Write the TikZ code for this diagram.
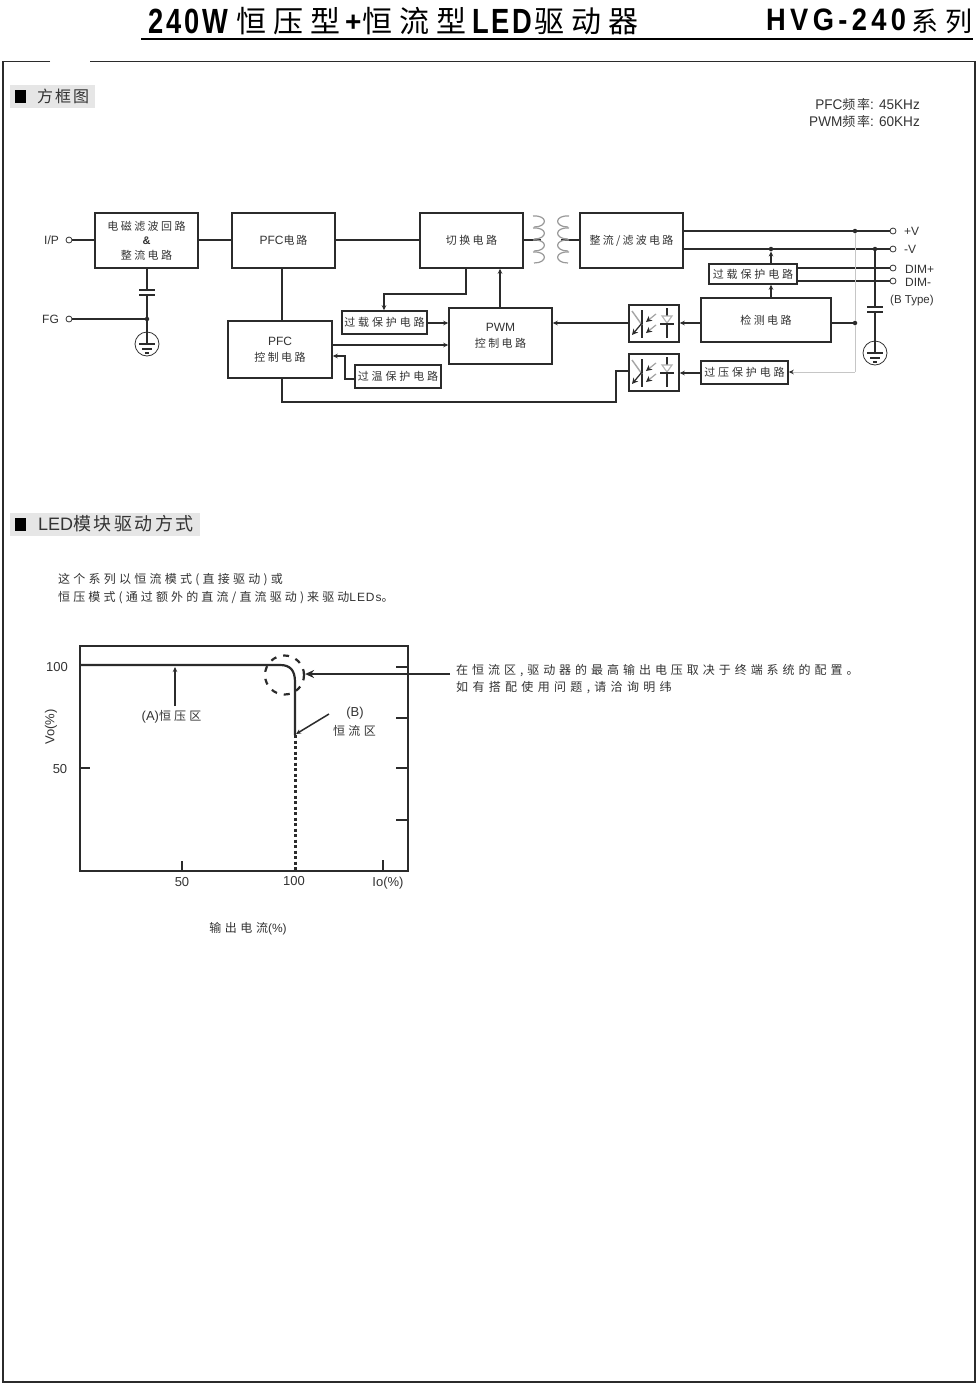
\documentclass[tikz,border=0pt]{standalone}
\usepackage{fontspec}
\usetikzlibrary{arrows.meta}
\setmainfont{Liberation Sans}
\newfontfamily\cjk{Noto Sans CJK SC}
\newcommand{\fs}[1]{\fontsize{#1}{#1}\selectfont}
\newcommand{\Zh}[2]{{\cjk\addfontfeature{LetterSpace=#1}#2}}
\definecolor{ink}{HTML}{2B2B2B}
\definecolor{soft}{HTML}{333333}
\definecolor{band}{HTML}{E6E6E6}
\tikzset{
  wire/.style={draw=ink,line width=1.5pt},
  arr/.style={wire,-{Stealth[length=5pt,width=4.5pt]}},
  box/.style={draw=ink,line width=1.5pt,rectangle,inner sep=0pt,align=center,text=soft,font=\fs{11}},
  txt/.style={inner sep=0pt,text=soft,font=\fs{12}},
  lab/.style={txt,anchor=base west},
  term/.style={circle,draw=soft,line width=.8pt,fill=white,minimum size=6pt,inner sep=0pt},
  jdot/.style={circle,fill=ink,minimum size=4.5pt,inner sep=0pt},
  titlefont/.style={inner sep=0pt,anchor=base west,text=black},
}
\newcommand{\gnd}[3]{% name, x, y of centre
  \node[circle,draw=soft,line width=.8pt,minimum size=24pt,inner sep=0pt] (#1) at (#2,#3) {};
  \draw[wire,line width=1.2pt] ([xshift=-8pt,yshift=0pt]#1.center) -- ([xshift=8pt]#1.center);
  \draw[wire,line width=1.2pt] ([xshift=-5pt,yshift=-5pt]#1.center) -- ([xshift=5pt,yshift=-5pt]#1.center);
  \draw[wire,line width=1.2pt] ([xshift=-2pt,yshift=-9pt]#1.center) -- ([xshift=2pt,yshift=-9pt]#1.center);
}
\newcommand{\optosym}[2]{% x,y of box left top
  \begin{scope}[shift={(#1,#2)}]
    \draw[wire] (13,5) -- (13,33);
    \draw[draw=gray!70,line width=1.4pt] (3,6) -- (13,20);
    \draw[wire,line width=1.2pt,-{Stealth[length=6pt,width=6pt]}] (13,18) -- (3,30);
    \draw[draw=gray!70,line width=1.2pt,-{Stealth[length=6pt,width=6pt,color=ink]}] (27,9) -- (17,17);
    \draw[draw=gray!70,line width=1.2pt,-{Stealth[length=6pt,width=6pt,color=ink]}] (27,20) -- (17,28);
    \draw[wire] (38,3) -- (38,11);
    \draw[draw=gray!60,line width=1.1pt] (33,11) -- (43,11) -- (38,18) -- cycle;
    \draw[wire] (31,19) -- (45,19);
    \draw[wire] (38,19) -- (38,33);
  \end{scope}
}
\begin{document}
\begin{tikzpicture}[x=1pt,y=-1pt]
\useasboundingbox[fill=white] (0,0) rectangle (977,1385);
% title
\node[titlefont,font=\fs{35}\bfseries] (t1) at (148,33) {\addfontfeature{FakeStretch=.78,LetterSpace=8}240W};
\node[titlefont,font=\fs{30}] (t2) at (236,32) {\Zh{24}{恒压型}};
\node[titlefont,font=\fs{28}\bfseries] (t3) at (345,31) {+};
\node[titlefont,font=\fs{30}] (t4) at (362,32) {\Zh{24}{恒流型}};
\node[titlefont,font=\fs{35}\bfseries] (t5) at (472,33) {\addfontfeature{FakeStretch=.78,LetterSpace=8}LED};
\node[titlefont,font=\fs{30}] (t6) at (534,32) {\Zh{24}{驱动器}};
\node[titlefont,font=\fs{31}\bfseries] (t7) at (766,30) {\addfontfeature{FakeStretch=.88,LetterSpace=14}HVG-240};
\node[titlefont,font=\fs{27}] (t8) at (911,31) {\Zh{28}{系列}};
\draw[draw=black,line width=2.2pt] (141,39) coordinate (ruleL) -- (973,39) coordinate (ruleR);
% frame
\draw[draw=ink,line width=1.5pt] (50,61.5) coordinate (fa) -- (3,61.5) -- (3,1382) -- (975,1382) -- (975,61.5) -- (90,61.5) coordinate (fb);
% section heads
\node[fill=band,inner sep=0pt,minimum width=85pt,minimum height=23pt] (h1) at (52.5,96.5) {};
\node[fill=black,inner sep=0pt,minimum width=11pt,minimum height=13pt] (h1s) at (20,96) {};
\node[lab,font=\fs{16}] (h1t) at (37,102) {\Zh{12}{方框图}};
\node[fill=band,inner sep=0pt,minimum width=190pt,minimum height=23pt] (h2) at (105,524.5) {};
\node[fill=black,inner sep=0pt,minimum width=11pt,minimum height=13pt] (h2s) at (20,524) {};
\node[lab,font=\fs{18}] (h2t) at (38,530) {LED\Zh{14}{模块驱动方式}};
% frequency
\node[txt,anchor=base east,font=\fs{14}] (f1) at (920,109) {\addfontfeature{FakeStretch=.97}PFC\Zh{14}{\fs{13}频率}: 45KHz};
\node[txt,anchor=base east,font=\fs{14}] (f2) at (920,126) {\addfontfeature{FakeStretch=.97}PWM\Zh{14}{\fs{13}频率}: 60KHz};
% boxes
\node[box,minimum width=103pt,minimum height=55pt] (emi) at (146.5,240.5) {\Zh{22}{电磁滤波回路}\\[3.5pt]\textbf{\&}\\[3.5pt]\Zh{22}{整流电路}};
\node[box,minimum width=103pt,minimum height=55pt] (pfc) at (283.5,240.5) {\fs{12}PFC\Zh{16}{\fs{11}电路}};
\node[box,minimum width=104pt,minimum height=57pt] (pfcc) at (280,349.5) {\fs{12}PFC\\[5pt]\Zh{22}{控制电路}};
\node[box,minimum width=103pt,minimum height=55pt] (sw) at (471.5,240.5) {\Zh{22}{切换电路}};
\node[box,minimum width=103pt,minimum height=55pt] (rect) at (631.5,240.5) {\Zh{20}{整流/滤波电路}};
\node[box,minimum width=85pt,minimum height=23pt] (ol1) at (384.5,322.5) {\Zh{26}{过载保护电路}};
\node[box,minimum width=103pt,minimum height=56pt] (pwm) at (500.5,336) {\fs{12}PWM\\[5pt]\Zh{22}{控制电路}};
\node[box,minimum width=86pt,minimum height=23pt] (ot) at (398,376.5) {\Zh{26}{过温保护电路}};
\node[box,minimum width=50pt,minimum height=37pt] (op1) at (654,323.5) {};
\node[box,minimum width=50pt,minimum height=37pt] (op2) at (654,372.5) {};
\node[box,minimum width=130pt,minimum height=44pt] (det) at (766,320) {\Zh{22}{检测电路}};
\node[box,minimum width=87pt,minimum height=23pt] (ov) at (744.5,372.5) {\Zh{26}{过压保护电路}};
\node[box,minimum width=88pt,minimum height=20pt] (ol2) at (753,274) {\Zh{26}{过载保护电路}};
\optosym{629}{305}
\optosym{629}{354}
% terminals and labels
\node[term] (ip) at (69,240) {};
\node[term] (fg) at (69,319) {};
\node[txt,font=\fs{12}] (ipl) at (51.5,240) {I/P};
\node[txt,font=\fs{12}] (fgl) at (50.5,319) {FG};
\node[term] (vp) at (893,231) {};
\node[term] (vm) at (893,249) {};
\node[term] (dp) at (893,268) {};
\node[term] (dm) at (893,281) {};
\node[lab,font=\fs{12}] (vpl) at (904,235) {+V};
\node[lab,font=\fs{12}] (vml) at (904,253.5) {-V};
\node[lab,font=\fs{12}] (dpl) at (905,273) {DIM+};
\node[lab,font=\fs{12}] (dml) at (905,286) {DIM-};
\node[lab,font=\fs{11.5}] (btl) at (890,303) {(B Type)};
% left connections
\coordinate (mid) at (300,240);
\draw[wire] (ip) -- (emi.west |- ip);
\draw[wire] (emi.east |- mid) -- (pfc.west |- mid);
\draw[wire] (pfc.east |- mid) -- (sw.west |- mid);
\node[jdot] (j1) at (147,319) {};
\coordinate (c1a) at (147,290);
\coordinate (c1b) at (147,295);
\draw[wire] (emi.south -| j1) -- (c1a);
\draw[wire] ([xshift=-8pt]c1a) -- ([xshift=8pt]c1a);
\draw[wire] ([xshift=-8pt]c1b) -- ([xshift=8pt]c1b);
\draw[wire] (c1b) -- (j1);
\draw[wire] (fg) -- (j1);
\gnd{g1}{147}{344}
\draw[wire] (j1) -- (g1.center);
\coordinate (k0) at (282,300);
\draw[wire] (pfc.south -| k0) -- (pfcc.north -| k0);
% transformer
\coordinate (coilL) at (541,240);
\coordinate (coilR) at (561,240);
\draw[wire] (sw.east |- coilL) -- (coilL);
\draw[wire] (coilR) -- (rect.west |- coilR);
\foreach \yy in {216,228,240,252}{
  \draw[draw=gray!80,line width=1.2pt] (533,\yy) .. controls (548,\yy-1) and (548,\yy+11) .. (534,\yy+11);
  \draw[draw=gray!80,line width=1.2pt] (569,\yy) .. controls (554,\yy-1) and (554,\yy+11) .. (568,\yy+11);
}
% middle connections
\coordinate (k1) at (466,294);
\coordinate (k2) at (384,294);
\draw[arr] (sw.south -| k1) -- (k1) -- (k2) -- (ol1.north -| k2);
\coordinate (k11) at (440,323);
\draw[arr] (ol1.east |- k11) -- (pwm.west |- k11);
\coordinate (k9) at (400,345);
\draw[arr] (pfcc.east |- k9) -- (pwm.west |- k9);
\coordinate (k3) at (345,356);
\coordinate (k4) at (345,379);
\draw[arr] (ot.west |- k4) -- (k4) -- (k3) -- (pfcc.east |- k3);
\coordinate (k10) at (500,290);
\draw[arr] (pwm.north -| k10) -- (sw.south -| k10);
\coordinate (k12) at (600,323);
\draw[arr] (op1.west |- k12) -- (pwm.east |- k12);
\coordinate (k5) at (282,402);
\coordinate (k6) at (616,402);
\coordinate (k7) at (616,371);
\draw[wire] (pfcc.south -| k5) -- (k5) -- (k6) -- (k7) -- (op2.west |- k7);
% right connections
\coordinate (k13) at (690,323);
\coordinate (k14) at (690,373);
\draw[arr] (det.west |- k13) -- (op1.east |- k13);
\draw[arr] (ov.west |- k14) -- (op2.east |- k14);
\draw[wire] (rect.east |- vp) -- (vp);
\draw[wire] (rect.east |- vm) -- (vm);
\draw[wire] (ol2.east |- dp) -- (dp);
\draw[wire] (ol2.east |- dm) -- (dm);
\node[jdot] (j2) at (855,231) {};
\node[jdot] (j3) at (875,249) {};
\node[jdot] (j4) at (771,249) {};
\node[jdot] (j5) at (855,323) {};
\draw[arr] (ol2.north -| j4) -- (j4);
\draw[arr] (det.north -| j4) -- (ol2.south -| j4);
\draw[wire] (det.east |- j5) -- (j5);
\coordinate (k8) at (855,372);
\draw[draw=gray!45,line width=1pt] (j2) -- (j5) -- (k8);
\draw[draw=gray!45,line width=1pt,-{Stealth[length=5pt,width=4.5pt,color=ink]}] (k8) -- (ov.east |- k8);
\coordinate (c2a) at (875,307);
\coordinate (c2b) at (875,312);
\draw[wire] (j3) -- (c2a);
\draw[wire] ([xshift=-8pt]c2a) -- ([xshift=8pt]c2a);
\draw[wire] ([xshift=-8pt]c2b) -- ([xshift=8pt]c2b);
\gnd{g2}{875}{353}
\draw[wire] (c2b) -- (g2.center);
% text
\node[lab] (p1) at (58,583) {\Zh{27}{这个系列以恒流模式(直接驱动)或}};
\node[lab] (p2) at (58,601) {\Zh{26}{恒压模式(通过额外的直流/直流驱动)来驱动}\addfontfeature{LetterSpace=8}LEDs\Zh{0}{。}};
\node[lab] (p3) at (456,674.5) {\Zh{33}{在恒流区,驱动器的最高输出电压取决于终端系统的配置。}};
\node[lab] (p4) at (456,691.5) {\Zh{36}{如有搭配使用问题,请洽询明纬}};
% graph
\node[draw=ink,line width=1.5pt,inner sep=0pt,minimum width=328pt,minimum height=225pt] (plot) at (244,758.5) {};
\coordinate (cv0) at (100,665);
\coordinate (cv1) at (295,682);
\coordinate (cv2) at (295,735);
\draw[draw=ink,line width=2.2pt] (plot.west |- cv0) -- (280,665) .. controls (290,665) and (295,670) .. (cv1) -- (cv2);
\draw[draw=ink,line width=3pt,dash pattern=on 3pt off 2.5pt] (cv2) -- (plot.south -| cv2);
\node[circle,draw=ink,line width=2.2pt,dash pattern=on 6pt off 7pt,minimum size=39pt,inner sep=0pt] (ring) at (284.5,675) {};
\coordinate (aA) at (175,706);
\coordinate (aAt) at (175,667);
\draw[arr] (aA) -- (aAt);
\coordinate (aR) at (450,674);
\draw[wire,-{Stealth[length=9pt,width=8pt]}] (aR) -- (ring.east |- aR);
\coordinate (aB) at (329,714);
\coordinate (aBt) at (296,734);
\draw[arr] (aB) -- (aBt);
\foreach \yy in {667,718,768,820}{
  \coordinate (tk) at (396,\yy);
  \draw[wire] (tk) -- (plot.east |- tk);
}
\coordinate (tl) at (90,768);
\draw[wire] (plot.west |- tl) -- (tl);
\coordinate (tb1) at (182,861);
\coordinate (tb2) at (383,860);
\draw[wire] (tb1) -- (plot.south -| tb1);
\draw[wire] (tb2) -- (plot.south -| tb2);
\node[txt,font=\fs{13}] (y100) at (57,667) {100};
\node[txt,font=\fs{13}] (y50) at (60,769) {50};
\node[txt,font=\fs{13},rotate=90] (ylab) at (51,727) {Vo(\%)};
\node[txt,font=\fs{13}] (x50) at (182,882) {50};
\node[txt,font=\fs{13}] (x100) at (294,881) {100};
\node[txt,font=\fs{13}] (xio) at (388,883) {Io(\%)};
\node[txt] (xlab) at (248,929) {\Zh{30}{输出电流}(\%)};
\node[txt] (lA) at (171.5,717) {\fs{13}(A)\Zh{26}{\fs{12}恒压区}};
\node[txt,font=\fs{13}] (lB) at (355,713.5) {(B)};
\node[txt] (lB2) at (354.5,731) {\Zh{28}{恒流区}};
\end{tikzpicture}
\end{document}
